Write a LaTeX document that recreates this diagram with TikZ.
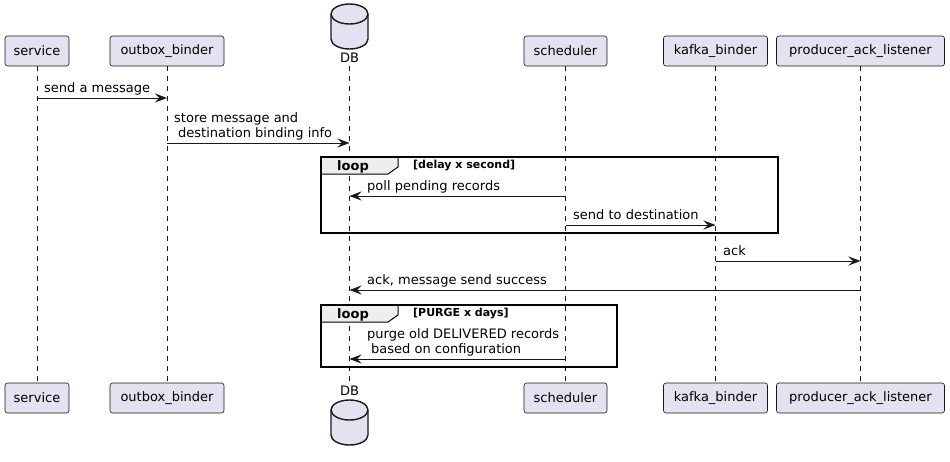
\documentclass[tikz,border=0pt]{standalone}
\usepackage{fontspec}
\setmainfont{DejaVu Sans}
\usetikzlibrary{arrows.meta}
\definecolor{partfill}{HTML}{E2E2F0}
\definecolor{ink}{HTML}{181818}
\definecolor{tabfill}{HTML}{EEEEEE}

\begin{document}
\begin{tikzpicture}[x=1pt,y=-1pt,
  part/.style={draw=ink, fill=partfill, line width=0.6pt, rounded corners=2.5pt,
    minimum height=30pt, inner sep=0pt, font=\fontsize{13}{15}\selectfont},
  dbname/.style={inner sep=0pt, font=\fontsize{13}{15}\selectfont},
  dbshape/.style={draw=ink, fill=partfill, line width=1.4pt},
  life/.style={draw=ink, line width=0.6pt, dash pattern=on 5pt off 5pt},
  msg/.style={draw=ink, line width=1pt, -{Stealth[length=12pt,width=9pt,inset=4.5pt]}},
  lbl/.style={inner sep=0pt, anchor=base west, font=\fontsize{13}{15.2}\selectfont},
  mlbl/.style={inner sep=0pt, anchor=south west, text depth=0pt, align=left,
    font=\fontsize{13}{15.2}\selectfont},
  frame/.style={draw=black, line width=1.6pt},
  tab/.style={draw=black, fill=tabfill, line width=1pt},
  kw/.style={inner sep=0pt, anchor=base west, font=\bfseries\fontsize{13}{15}\selectfont},
  cond/.style={inner sep=0pt, anchor=base west, font=\bfseries\fontsize{11}{13}\selectfont}]

\useasboundingbox (0,0) rectangle (950,461);

% participants, top row
\node[part, minimum width=64pt]  (svcT) at (37,51)    {service};
\node[part, minimum width=114pt] (obT)  at (167,51)   {outbox\_binder};
\node[part, minimum width=83pt]  (schT) at (565.5,51) {scheduler};
\node[part, minimum width=104pt] (kbT)  at (715.5,51) {kafka\_binder};
\node[part, minimum width=168pt] (palT) at (860.5,51) {producer\_ack\_listener};

% participants, bottom row
\node[part, minimum width=64pt]  (svcB) at (37,398)    {service};
\node[part, minimum width=114pt] (obB)  at (167,398)   {outbox\_binder};
\node[part, minimum width=83pt]  (schB) at (565.5,398) {scheduler};
\node[part, minimum width=104pt] (kbB)  at (715.5,398) {kafka\_binder};
\node[part, minimum width=168pt] (palB) at (860.5,398) {producer\_ack\_listener};

% database participant: cylinders with their names
\path[dbshape] (331,39) -- (331,14)
  arc[start angle=180, end angle=0, x radius=18.5pt, y radius=10pt]
  -- (368,39)
  arc[start angle=0, end angle=-180, x radius=18.5pt, y radius=10pt] -- cycle;
\draw[dbshape, fill=none] (331,14)
  arc[start angle=180, end angle=360, x radius=18.5pt, y radius=10pt];
\node[dbname] (dbT) at (349.5,58) {DB};

\path[dbshape] (331,435) -- (331,410)
  arc[start angle=180, end angle=0, x radius=18.5pt, y radius=10pt]
  -- (368,435)
  arc[start angle=0, end angle=-180, x radius=18.5pt, y radius=10pt] -- cycle;
\draw[dbshape, fill=none] (331,410)
  arc[start angle=180, end angle=360, x radius=18.5pt, y radius=10pt];
\node[dbname] (dbB) at (349.5,391) {DB};

% lifelines
\draw[life] (svcT.south) -- (svcB.north);
\draw[life] (obT.south)  -- (obB.north);
\draw[life] ([yshift=-3pt]dbT.south) -- ([yshift=3pt]dbB.north);
\draw[life] (schT.south) -- (schB.north);
\draw[life] (kbT.south)  -- (kbB.north);
\draw[life] (palT.south) -- (palB.north);

% message rows
\coordinate (r1) at (0,98);
\coordinate (r2) at (0,143);
\coordinate (r3) at (0,196);
\coordinate (r4) at (0,225);
\coordinate (r5) at (0,261);
\coordinate (r6) at (0,290);
\coordinate (r7) at (0,359);

% loop frames
\draw[tab] (321,157) -- (398,157) -- (398,167) -- (388,174) -- (321,174) -- cycle;
\draw[frame] (321,157) rectangle (778,233);
\node[kw]   (loop1) at (337,170.5) {loop};
\node[cond] (cond1) at (413,168.5) {[delay x second]};

\draw[tab] (321,305) -- (398,305) -- (398,315) -- (388,322) -- (321,322) -- cycle;
\draw[frame] (321,305) rectangle (617,367);
\node[kw]   (loop2) at (337,318.5) {loop};
\node[cond] (cond2) at (413,316.5) {[PURGE x days]};

% messages
\draw[msg] (svcT |- r1) -- (obT |- r1);
\node[lbl] (m1) at (44,92.5) {send a message};

\draw[msg] (obT |- r2) -- (dbT |- r2);
\node[mlbl] (m2) at (174,137.5) {store message and\\\hspace*{4pt}destination binding info};

\draw[msg] (schT |- r3) -- (dbT |- r3);
\node[lbl] (m3) at (367,190.5) {poll pending records};

\draw[msg] (schT |- r4) -- (kbT |- r4);
\node[lbl] (m4) at (573,219.5) {send to destination};

\draw[msg] (kbT |- r5) -- (palT |- r5);
\node[lbl] (m5) at (723,255.5) {ack};

\draw[msg] (palT |- r6) -- (dbT |- r6);
\node[lbl] (m6) at (367,284.5) {ack, message send success};

\draw[msg] (schT |- r7) -- (dbT |- r7);
\node[mlbl] (m7) at (367,353.5) {purge old DELIVERED records\\\hspace*{4pt}based on configuration};

\end{tikzpicture}
\end{document}
